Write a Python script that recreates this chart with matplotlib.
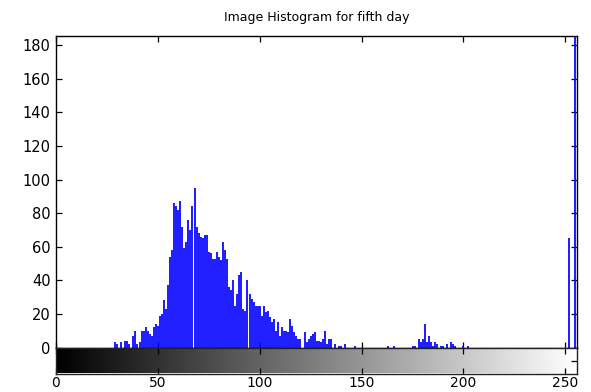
import matplotlib
matplotlib.use("Agg")
import matplotlib.pyplot as plt
import numpy as np

# Gray levels 0..255 and pixel counts per level
gray_levels = list(range(256))
pixel_counts = [
    # 0-15
    0, 0, 0, 0, 0, 0, 0, 0, 0, 0, 0, 0, 0, 0, 0, 0,
    # 16-31
    0, 0, 0, 0, 0, 0, 0, 0, 0, 0, 0, 0, 0, 3, 2, 0,
    # 32-47
    3, 0, 4, 4, 2, 0, 7, 10, 2, 3, 10, 10, 12, 10, 8, 7,
    # 48-63
    12, 14, 13, 19, 20, 28, 23, 37, 54, 58, 86, 84, 82, 87, 72, 59,
    # 64-79
    63, 76, 70, 84, 95, 72, 68, 66, 65, 67, 67, 57, 56, 53, 53, 57,
    # 80-95
    54, 52, 63, 58, 53, 36, 34, 40, 25, 32, 43, 45, 23, 22, 40, 32,
    # 96-111
    29, 27, 25, 25, 25, 19, 25, 21, 22, 18, 15, 17, 10, 15, 7, 12,
    # 112-127
    10, 10, 9, 17, 13, 9, 7, 5, 5, 0, 9, 3, 5, 7, 8, 9,
    # 128-143
    4, 4, 3, 5, 10, 2, 5, 5, 0, 2, 0, 1, 1, 0, 2, 0,
    # 144-159
    0, 0, 0, 1, 0, 0, 0, 0, 0, 0, 0, 0, 0, 0, 0, 0,
    # 160-175
    0, 0, 0, 1, 0, 0, 1, 0, 0, 0, 0, 0, 0, 0, 0, 1,
    # 176-191
    1, 0, 5, 3, 5, 14, 3, 7, 3, 1, 3, 2, 0, 1, 1, 0,
    # 192-207
    2, 0, 3, 2, 1, 0, 0, 0, 1, 0, 1, 0, 0, 0, 0, 0,
    # 208-223
    0, 0, 0, 0, 0, 0, 0, 0, 0, 0, 0, 0, 0, 0, 0, 0,
    # 224-239
    0, 0, 0, 0, 0, 0, 0, 0, 0, 0, 0, 0, 0, 0, 0, 0,
    # 240-255
    0, 0, 0, 0, 0, 0, 0, 0, 0, 0, 0, 0, 65, 0, 0, 300,
]

x_ticks = [0, 50, 100, 150, 200, 250]
y_ticks = [0, 20, 40, 60, 80, 100, 120, 140, 160, 180]
title_text = "Image Histogram for fifth day"

W, H = 591, 392
fig = plt.figure(figsize=(W / 100, H / 100), dpi=100)
fig.patch.set_facecolor("white")

left, right = 56 / W, 576.5 / W
top_main, bot_main = 1 - 36 / H, 1 - 347.5 / H
bot_bar = 1 - 373.5 / H

ax = fig.add_axes([left, bot_main, right - left, top_main - bot_main])
cax = fig.add_axes([left, bot_bar, right - left, bot_main - bot_bar])

xmax = 255.5
ymax = 185.5

# Histogram stems
ax.vlines(gray_levels, 0, pixel_counts, colors="#0000ff", linewidth=1.25)
ax.set_xlim(0, xmax)
ax.set_ylim(0, ymax)
ax.set_yticks(y_ticks)
ax.set_xticks(x_ticks)
ax.tick_params(axis="both", direction="in", length=4, width=0.9,
               top=True, right=True, labelbottom=False,
               labelsize=10.5, pad=4, colors="black")
for s in ax.spines.values():
    s.set_linewidth(1.0)
    s.set_color("black")

# Gray-level bar beneath the histogram
grad = np.linspace(0, 1, 512).reshape(1, -1)
cax.imshow(grad, cmap="gray", aspect="auto", extent=[0, xmax, 0, 1],
           vmin=0, vmax=1, interpolation="bilinear")
cax.set_xlim(0, xmax)
cax.set_ylim(0, 1)
cax.set_xticks(x_ticks)
cax.set_xticklabels([str(t) for t in x_ticks])
cax.set_yticks([0.5])
cax.tick_params(axis="x", direction="in", length=4, width=0.9, top=True,
                labelsize=10, pad=1.5)
cax.tick_params(axis="y", direction="in", length=4, width=0.9,
                left=False, right=True, labelleft=False)
for s in cax.spines.values():
    s.set_linewidth(1.0)
    s.set_color("#222222")

fig.text((left + right) / 2, 1 - 18 / H, title_text, ha="center",
         va="center", fontsize=9)

fig.savefig("out.png", dpi=100)
